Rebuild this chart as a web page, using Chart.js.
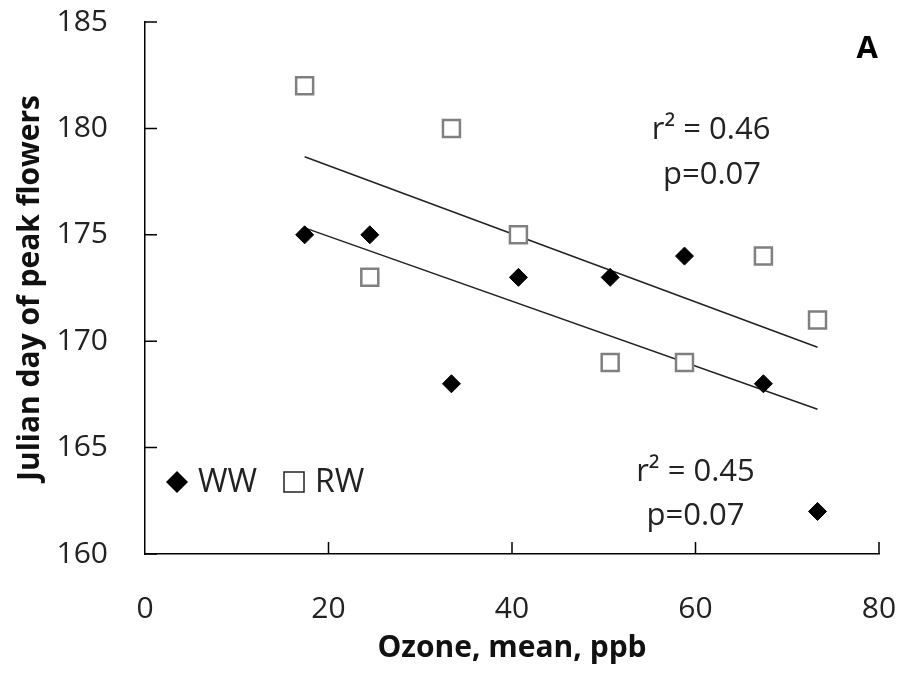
<!DOCTYPE html>
<html>
<head>
<meta charset="utf-8">
<script src="https://cdn.jsdelivr.net/npm/chart.js@4.4.0/dist/chart.umd.min.js"></script>
<style>
  html, body { margin: 0; padding: 0; background: #fff; }
  #wrap { width: 900px; height: 680px; }
</style>
</head>
<body>
<div id="wrap"><canvas id="chart" width="900" height="680"></canvas></div>
<script>
// ozone (ppb) per site, same for both groups
const ozone = [17.4, 24.5, 33.4, 40.7, 50.7, 58.8, 67.4, 73.3];
const peakWW = [175, 175, 168, 173, 173, 174, 168, 162];
const peakRW = [182, 173, 180, 175, 169, 169, 174, 171];
const xTicks = [0, 20, 40, 60, 80];
const yTicks = [160, 165, 170, 175, 180, 185];

const FONT = "'Open Sans', sans-serif";

// simple least squares fit -> two end points
function fit(xs, ys) {
  const n = xs.length;
  const mx = xs.reduce((a, b) => a + b, 0) / n;
  const my = ys.reduce((a, b) => a + b, 0) / n;
  let sxy = 0, sxx = 0;
  for (let i = 0; i < n; i++) {
    sxy += (xs[i] - mx) * (ys[i] - my);
    sxx += (xs[i] - mx) * (xs[i] - mx);
  }
  const b = sxy / sxx, a = my - b * mx;
  const x0 = Math.min(...xs), x1 = Math.max(...xs);
  return [{ x: x0, y: a + b * x0 }, { x: x1, y: a + b * x1 }];
}

const pts = (ys) => ozone.map((x, i) => ({ x: x, y: ys[i] }));

// inward ticks, in-plot legend and text labels
const extras = {
  id: 'extras',
  afterDraw(chart) {
    const ctx = chart.ctx;
    const xs = chart.scales.x, ys = chart.scales.y;
    const ca = chart.chartArea;
    ctx.save();
    ctx.strokeStyle = '#000';
    ctx.lineWidth = 1.5;
    ctx.beginPath();
    yTicks.forEach(v => {
      const py = ys.getPixelForValue(v);
      ctx.moveTo(ca.left, py);
      ctx.lineTo(ca.left + 12, py);
    });
    xTicks.forEach(v => {
      if (v === 0) return;
      const px = xs.getPixelForValue(v);
      ctx.moveTo(px, ca.bottom);
      ctx.lineTo(px, ca.bottom - 12);
    });
    ctx.stroke();

    ctx.fillStyle = '#222';
    ctx.textAlign = 'center';
    ctx.textBaseline = 'middle';
    ctx.font = '31px ' + FONT;
    const put = (t, x, y) => ctx.fillText(t, xs.getPixelForValue(x), ys.getPixelForValue(y));
    put('r\u00b2 = 0.46', 61.7, 179.9);
    put('p=0.07', 61.8, 177.8);
    put('r\u00b2 = 0.45', 60.0, 163.85);
    put('p=0.07', 60.0, 161.8);
    ctx.font = 'bold 31px ' + FONT;
    ctx.fillStyle = '#000';
    put('A', 78.7, 183.7);

    // legend
    const ly = ca.top + 460;
    const dx = ca.left + 32;
    ctx.beginPath();
    ctx.moveTo(dx, ly - 11);
    ctx.lineTo(dx + 11, ly);
    ctx.lineTo(dx, ly + 11);
    ctx.lineTo(dx - 11, ly);
    ctx.closePath();
    ctx.fillStyle = '#000';
    ctx.fill();
    ctx.fillStyle = '#222';
    ctx.textAlign = 'left';
    ctx.font = '32px ' + FONT;
    ctx.fillText('WW', ca.left + 53, ly + 1);
    ctx.strokeStyle = '#222';
    ctx.lineWidth = 1.5;
    ctx.strokeRect(ca.left + 139, ly - 10, 20, 20);
    ctx.fillText('RW', ca.left + 170, ly + 1);
    ctx.restore();
  }
};

new Chart(document.getElementById('chart'), {
  type: 'scatter',
  data: {
    datasets: [
      {
        label: 'WW',
        data: pts(peakWW),
        pointStyle: 'rectRot',
        pointRadius: 9,
        pointHoverRadius: 9,
        backgroundColor: '#000',
        borderColor: '#000',
        borderWidth: 1
      },
      {
        label: 'RW',
        data: pts(peakRW),
        pointStyle: 'rect',
        pointRadius: 12,
        pointHoverRadius: 12,
        backgroundColor: '#fff',
        borderColor: '#808080',
        borderWidth: 2.5
      },
      {
        type: 'line',
        label: 'WW fit',
        data: fit(ozone, peakWW),
        borderColor: '#222',
        borderWidth: 1.5,
        pointRadius: 0,
        fill: false
      },
      {
        type: 'line',
        label: 'RW fit',
        data: fit(ozone, peakRW),
        borderColor: '#222',
        borderWidth: 1.5,
        pointRadius: 0,
        fill: false
      }
    ]
  },
  options: {
    responsive: false,
    animation: false,
    layout: { padding: { top: 22, right: 21, left: 0, bottom: 0 } },
    plugins: {
      legend: { display: false },
      tooltip: { enabled: false }
    },
    scales: {
      x: {
        type: 'linear',
        min: 0,
        max: 80,
        afterBuildTicks: (s) => { s.ticks = xTicks.map(v => ({ value: v })); },
        afterFit: (s) => { s.height = 126; s.paddingLeft = 0; s.paddingRight = 0; },
        grid: { display: false, drawTicks: false },
        border: { display: true, color: '#000', width: 1.5 },
        ticks: { color: '#222', padding: 37, font: { family: FONT, size: 30 } },
        title: {
          display: true,
          text: 'Ozone, mean, ppb',
          color: '#111',
          font: { family: FONT, size: 30, weight: 'bold' },
          padding: { top: 0, bottom: 14 }
        }
      },
      y: {
        type: 'linear',
        min: 160,
        max: 185,
        afterBuildTicks: (s) => { s.ticks = yTicks.map(v => ({ value: v })); },
        afterFit: (s) => { s.width = 145; s.paddingTop = 0; s.paddingBottom = 0; },
        grid: { display: false, drawTicks: false },
        border: { display: true, color: '#000', width: 1.5 },
        ticks: { color: '#222', padding: 37, font: { family: FONT, size: 30 } },
        title: {
          display: true,
          text: 'Julian day of peak flowers',
          color: '#111',
          font: { family: FONT, size: 30, weight: 'bold' },
          padding: { top: 12, bottom: 0 }
        }
      }
    }
  },
  plugins: [extras]
});
</script>
</body>
</html>
